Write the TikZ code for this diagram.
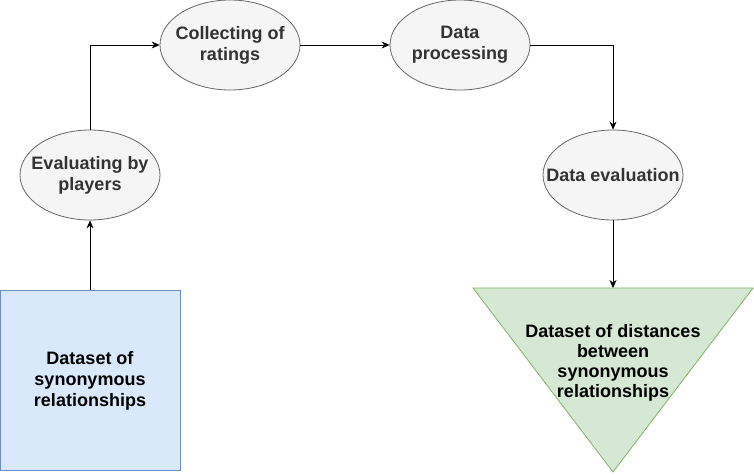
\documentclass[tikz,border=0pt]{standalone}
\usepackage{fontspec}
\setmainfont{Liberation Sans}
\usepackage{tikz}
\usetikzlibrary{arrows.meta,shapes.geometric}
\definecolor{bluefill}{HTML}{DAE8FC}
\definecolor{blueline}{HTML}{6C8EBF}
\definecolor{greenfill}{HTML}{D5E8D4}
\definecolor{greenline}{HTML}{82B366}
\definecolor{greyfill}{HTML}{F5F5F5}
\definecolor{greyline}{HTML}{666666}
\definecolor{greytext}{HTML}{333333}
\tikzset{
  stage/.style={ellipse, draw=greyline, fill=greyfill, text=greytext, line width=0.8pt,
    minimum width=140pt, minimum height=90pt, inner xsep=-30pt, inner ysep=0pt, align=center,
    font=\fontsize{18}{21}\selectfont\bfseries},
  dataset/.style={rectangle, draw=blueline, fill=bluefill, line width=0.8pt,
    minimum width=180pt, minimum height=180pt, align=center,
    font=\fontsize{18}{21}\selectfont\bfseries},
  flow/.style={-{Stealth[length=8pt,width=7pt]}, line width=0.8pt, draw=black}
}
\begin{document}
\begin{tikzpicture}[x=1pt,y=-1pt]
  \useasboundingbox (0,0) rectangle (754,474);

  \node[dataset] (syn) at (90,380.5) {Dataset of\\synonymous\\relationships};
  \node[stage] (evalp) at (90,175) {Evaluating by\\players};
  \node[stage] (collect) at (230,45) {Collecting of\\ratings};
  \node[stage] (proc) at (460,45) {Data\\processing};
  \node[stage] (deval) at (613,175) {Data evaluation};

  % inverted triangle for the result
  \coordinate (distl) at (473,288);
  \coordinate (distr) at (753,288);
  \coordinate (disttip) at (613,472);
  \coordinate (disttop) at (613,288);
  \draw[greenline, fill=greenfill, line width=0.8pt] (distl)--(distr)--(disttip)--cycle;
  \node[align=center, font=\fontsize{18}{20}\selectfont\bfseries] (dist) at (613,363)
    {Dataset of distances\\between\\synonymous\\relationships};

  % connectors
  \draw[flow] (syn.north) -- (evalp.south);
  \draw[flow] (evalp.north) |- (collect.west);
  \draw[flow] (collect.east) -- (proc.west);
  \draw[flow] (proc.east) -| (deval.north);
  \draw[flow] (deval.south) -- (disttop);
\end{tikzpicture}
\end{document}
